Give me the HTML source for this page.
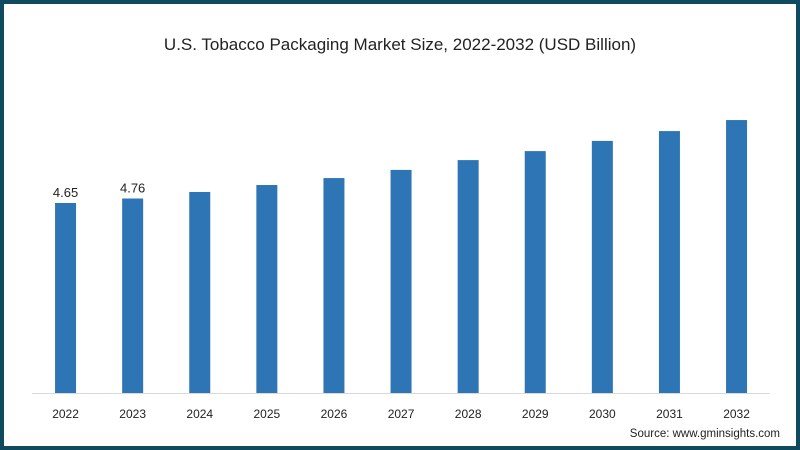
<!DOCTYPE html>
<html><head><meta charset="utf-8"><style>
body{margin:0;width:800px;height:450px;overflow:hidden;background:#fff;font-family:"Liberation Sans",sans-serif}
#frame{position:absolute;left:0;top:0;width:792px;height:442px;border:4px solid #0f4a5e;background:#fff}
</style></head><body>
<div id="frame"></div>
<svg id="chart" width="800" height="450" style="position:absolute;left:0;top:0">
<text x="400" y="50" text-anchor="middle" font-size="17" fill="#222">U.S. Tobacco Packaging Market Size, 2022-2032 (USD Billion)</text>
<line x1="32" y1="393.5" x2="770" y2="393.5" stroke="#d9d9d9" stroke-width="1"/>
<text x="780" y="437" text-anchor="end" font-size="11.5" fill="#222">Source: www.gminsights.com</text>
<g id="bars"></g>
</svg>
<script>
const categories=["2022","2023","2024","2025","2026","2027","2028","2029","2030","2031","2032"];
const values=[4.65,4.76,4.92,5.09,5.26,5.46,5.70,5.92,6.17,6.41,6.68];
const labels=["4.65","4.76","","","","","","","","",""];
const x0=32,band=67.1,barW=21,base=393,scale=40.86;
const xPos=i=>x0+band*i+band/2;
const yPos=v=>base-v*scale;
const g=document.getElementById('bars');
const ns="http://www.w3.org/2000/svg";
categories.forEach((c,i)=>{
  const r=document.createElementNS(ns,'rect');
  r.setAttribute('x',xPos(i)-barW/2);r.setAttribute('y',yPos(values[i]));
  r.setAttribute('width',barW);r.setAttribute('height',base-yPos(values[i]));
  r.setAttribute('fill','#2e75b6');
  
  
  g.appendChild(r);
  const t=document.createElementNS(ns,'text');
  t.setAttribute('x',xPos(i));t.setAttribute('y',418);t.setAttribute('text-anchor','middle');
  t.setAttribute('font-size','12');t.setAttribute('fill','#222');t.textContent=c;
  
  
  g.appendChild(t);
  if(labels[i]){
    const l=document.createElementNS(ns,'text');
    l.setAttribute('x',xPos(i));l.setAttribute('y',yPos(values[i])-6);l.setAttribute('text-anchor','middle');
    l.setAttribute('font-size','13');l.setAttribute('fill','#222');l.textContent=labels[i];
    
    
    g.appendChild(l);
  }
});
</script>
</body></html>
